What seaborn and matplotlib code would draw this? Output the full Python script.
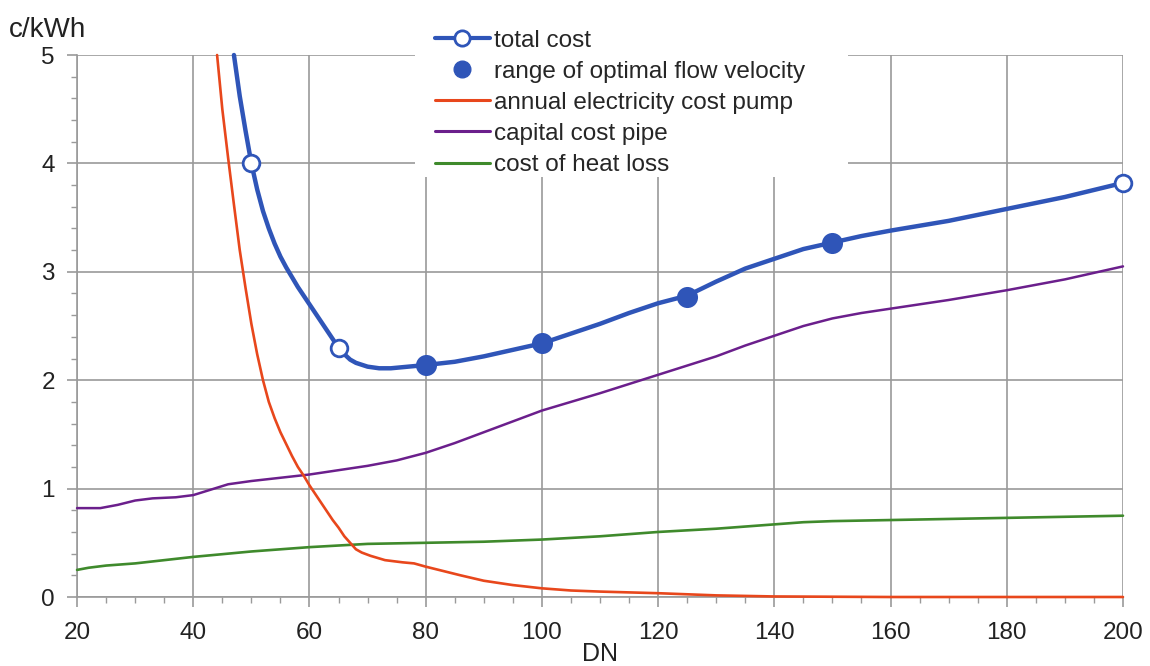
import matplotlib
matplotlib.use("Agg")
import matplotlib.pyplot as plt
from matplotlib.lines import Line2D
from matplotlib.patches import Rectangle
from matplotlib.ticker import MultipleLocator
import seaborn as sns

# total cost curve
dn_total = [47, 48, 49, 50, 51, 52, 53, 54, 55, 56, 57, 58, 59, 60, 61, 62, 63, 64, 65,
            66, 67, 68, 70, 72, 74, 76, 80, 85, 90, 95, 100, 105, 110, 115, 120, 125,
            130, 135, 140, 145, 150, 155, 160, 170, 180, 190, 200]
total_cost = [5.0, 4.62, 4.3, 4.0, 3.76, 3.56, 3.4, 3.26, 3.14, 3.04, 2.95, 2.86, 2.78,
              2.7, 2.62, 2.54, 2.46, 2.38, 2.30, 2.24, 2.19, 2.16, 2.125, 2.11, 2.11,
              2.12, 2.14, 2.17, 2.22, 2.28, 2.34, 2.43, 2.52, 2.62, 2.71, 2.78, 2.91,
              3.03, 3.12, 3.21, 3.27, 3.33, 3.38, 3.47, 3.58, 3.69, 3.82]

# hollow markers on the total cost curve
dn_open = [50, 65, 200]
cost_open = [4.0, 2.30, 3.82]

# range of optimal flow velocity
dn_opt = [80, 100, 125, 150]
cost_opt = [2.14, 2.34, 2.77, 3.27]

# annual electricity cost pump
dn_pump = [44.1, 45, 46, 47, 48, 49, 50, 51, 52, 53, 54, 55, 56, 57, 58, 59, 60, 61,
           62, 63, 64, 65, 66, 67, 68, 69, 70.5, 73, 76, 78, 80, 83, 86, 90, 95, 100,
           105, 110, 120, 130, 140, 160, 200]
pump_cost = [5.0, 4.5, 4.05, 3.62, 3.2, 2.85, 2.52, 2.24, 2.0, 1.8, 1.65, 1.52, 1.41,
             1.3, 1.2, 1.12, 1.03, 0.95, 0.87, 0.79, 0.71, 0.64, 0.56, 0.5, 0.44, 0.41,
             0.38, 0.34, 0.32, 0.31, 0.28, 0.24, 0.2, 0.15, 0.11, 0.08, 0.06, 0.05,
             0.035, 0.015, 0.005, 0.0, 0.0]

# capital cost pipe
dn_pipe = [20, 24, 27, 30, 33, 37, 40, 43, 46, 50, 55, 60, 65, 70, 75, 80, 85, 90, 95,
           100, 110, 120, 130, 135, 140, 145, 150, 155, 160, 170, 180, 190, 200]
pipe_cost = [0.82, 0.82, 0.85, 0.89, 0.91, 0.92, 0.94, 0.99, 1.04, 1.07, 1.1, 1.13,
             1.17, 1.21, 1.26, 1.33, 1.42, 1.52, 1.62, 1.72, 1.88, 2.05, 2.22, 2.32,
             2.41, 2.5, 2.57, 2.62, 2.66, 2.74, 2.83, 2.93, 3.05]

# cost of heat loss
dn_heat = [20, 22, 25, 30, 35, 40, 50, 60, 70, 80, 90, 100, 110, 120, 130, 140, 145,
           150, 160, 170, 180, 190, 200]
heat_cost = [0.25, 0.27, 0.29, 0.31, 0.34, 0.37, 0.42, 0.46, 0.49, 0.50, 0.51, 0.53,
             0.56, 0.60, 0.63, 0.67, 0.69, 0.70, 0.71, 0.72, 0.73, 0.74, 0.75]

blue = "#2f55b8"
red = "#e8471c"
purple = "#6b1f8c"
green = "#3f8a2c"
gray = "#9a9a9a"
ink = "#222222"

sns.set_style("ticks")
plt.rcParams['font.family'] = ['Liberation Sans', 'DejaVu Sans']

fig = plt.figure(figsize=(11.5, 6.66), dpi=100)
ax = fig.add_axes([0.067, 0.1036, 0.9095, 0.8138])

line_kw = dict(clip_on=False, zorder=3, ax=ax)
sns.lineplot(x=dn_heat, y=heat_cost, color=green, linewidth=1.9, **line_kw)
sns.lineplot(x=dn_pipe, y=pipe_cost, color=purple, linewidth=1.8, **line_kw)
sns.lineplot(x=dn_pump, y=pump_cost, color=red, linewidth=1.9, **line_kw)
sns.lineplot(x=dn_total, y=total_cost, color=blue, linewidth=3.2, **line_kw)
sns.lineplot(x=dn_open, y=cost_open, color=blue, linestyle='', marker='o', markersize=12,
             markerfacecolor='white', markeredgecolor=blue, markeredgewidth=2,
             clip_on=False, zorder=5, ax=ax)
sns.scatterplot(x=dn_opt, y=cost_opt, color=blue, s=230, edgecolor=blue, linewidth=0,
                zorder=5, ax=ax)

ax.set_xlim(20, 200)
ax.set_ylim(0, 5)
ax.xaxis.set_major_locator(MultipleLocator(20))
ax.xaxis.set_minor_locator(MultipleLocator(5))
ax.yaxis.set_major_locator(MultipleLocator(1))
ax.yaxis.set_minor_locator(MultipleLocator(0.2))
ax.grid(True, which='major', color=gray, linewidth=1.2)
ax.set_axisbelow(True)

# white box behind the legend hides the grid there
ax.add_patch(Rectangle((0.323, 0.775), 0.414, 0.35, transform=ax.transAxes,
                       facecolor='white', edgecolor='none', zorder=1, clip_on=False))

sns.despine(ax=ax)
for s in ['left', 'bottom']:
    ax.spines[s].set_color(gray)
    ax.spines[s].set_linewidth(1.2)
ax.tick_params(which='major', length=7, width=1.2, color=gray, labelsize=17.5,
               labelcolor=ink)
ax.tick_params(axis='x', which='major', pad=11)
ax.tick_params(axis='y', which='major', pad=9)
ax.tick_params(which='minor', length=4, width=1.0, color=gray)

ax.set_xlabel("")
ax.set_ylabel("")
fig.text(0.522, 0.0, "DN", fontsize=18, ha='center', va='bottom', color=ink)
fig.text(0.008, 0.955, "c/kWh", fontsize=20, ha='left', va='center', color=ink)

handles = [
    Line2D([], [], color=blue, lw=3, marker='o', markersize=11, markerfacecolor='white',
           markeredgecolor=blue, markeredgewidth=2),
    Line2D([], [], color=blue, linestyle='none', marker='o', markersize=12),
    Line2D([], [], color=red, lw=2.2),
    Line2D([], [], color=purple, lw=2.2),
    Line2D([], [], color=green, lw=2.2),
]
labels = ["total cost", "range of optimal flow velocity", "annual electricity cost pump",
          "capital cost pipe", "cost of heat loss"]
fig.legend(handles, labels, loc='upper left', bbox_to_anchor=(0.378, 0.955),
           frameon=False, fontsize=17.5, handlelength=2.26, handletextpad=0.2,
           labelspacing=0.37, borderpad=0, borderaxespad=0)

fig.savefig("out.png", dpi=100)
